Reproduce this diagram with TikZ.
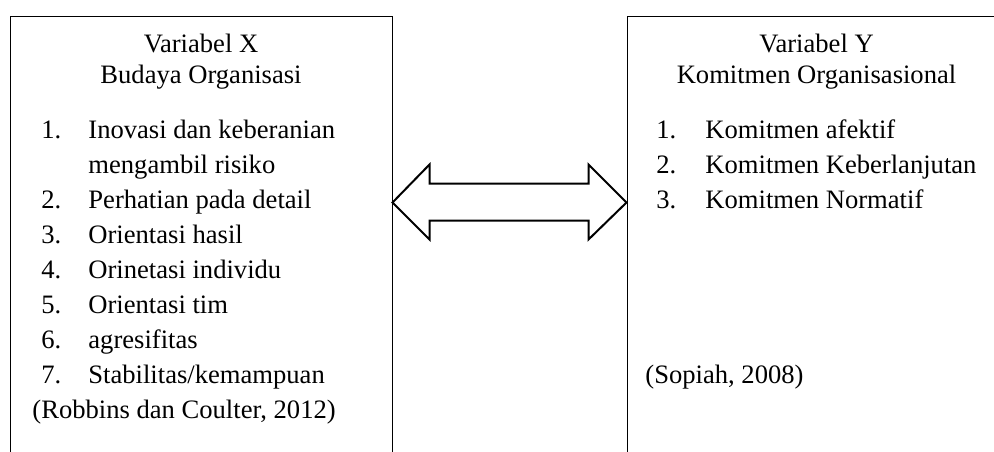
\documentclass[tikz,border=0pt]{standalone}
\usepackage{fontspec}
\setmainfont{Liberation Serif}
\usetikzlibrary{calc}

\tikzset{
  varbox/.style={draw, line width=0.5pt, inner sep=0pt},
  item/.style={anchor=base west, inner sep=0pt},
  title/.style={anchor=base, inner sep=0pt},
  dblarrow/.style={draw, line width=1pt, line join=miter, fill=white}
}

\begin{document}
\begin{tikzpicture}[x=0.5pt, y=-0.5pt, every node/.style={font=\fontsize{13.3}{16}\selectfont}]
			\useasboundingbox (0,0) rectangle (994,451);
			
			% boxes (bottom and right side run off the page)
			\node[varbox, minimum width=191pt, minimum height=232pt] (boxX) at (201,248) {};
			\node[varbox, minimum width=189.5pt, minimum height=232pt] (boxY) at (816.5,248) {};
			
			\node[title] (titleX) at (201,52) {Variabel X};
			\node[title] (subX) at (201,83) {Budaya Organisasi};
			\node[title] (titleY) at (816.5,52) {Variabel Y};
			\node[title] (subY) at (816.5,83) {Komitmen Organisasional};
			
			\foreach \txt [count=\i] in {Inovasi dan keberanian, mengambil risiko, Perhatian pada detail, Orientasi hasil, Orinetasi individu, Orientasi tim, agresifitas, Stabilitas/kemampuan}{
				\node[item] (itemX\i) at (88,103+35*\i) {\txt};
			}
			\foreach \k/\row in {1/1,2/3,3/4,4/5,5/6,6/7,7/8}{
				\node[item] (numX\k) at (41,103+35*\row) {\k.};
			}
			\node[item] (citeX) at (32,418) {(Robbins dan Coulter, 2012)};
			
			\foreach \txt [count=\i] in {Komitmen afektif, Komitmen Keberlanjutan, Komitmen Normatif}{
				\node[item] (numY\i) at (656,103+35*\i) {\i.};
				\node[item] (itemY\i) at (705,103+35*\i) {\txt};
			}
			\node[item] (citeY) at (645,383) {(Sopiah, 2008)};
			
			% two-way arrow between the boxes
			\coordinate (tipL) at ($(boxX.north east)+(0,187)$);
			\coordinate (tipR) at ($(boxY.north west)+(0,187)$);
			\draw[dblarrow] (tipL) -- ++(37,-38) -- ++(0,19) -- ($(tipR)+(-38,-19)$) -- ++(0,-19) -- (tipR)
				-- ++(-38,37) -- ++(0,-19) -- ($(tipL)+(37,18)$) -- ++(0,19) -- cycle;
		\end{tikzpicture}
\end{document}
